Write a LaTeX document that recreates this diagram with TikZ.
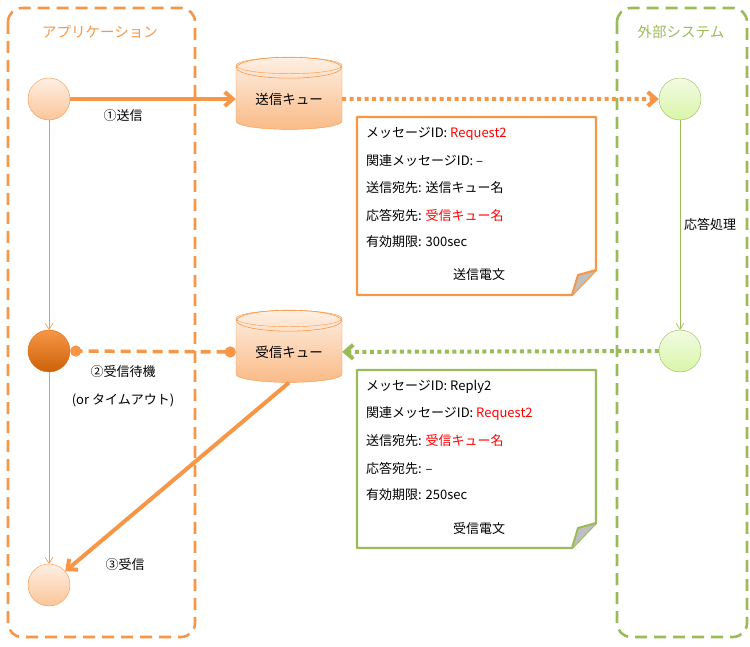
\documentclass[tikz,border=0pt]{standalone}
\usepackage{fontspec}
\setmainfont{Noto Sans CJK JP}
\usetikzlibrary{shapes.geometric,arrows.meta}
\definecolor{og}{HTML}{F79646}
\definecolor{ogd}{HTML}{E36C09}
\definecolor{gr}{HTML}{9BBB59}
\definecolor{rd}{HTML}{FF0000}
\definecolor{gl}{HTML}{F2FBE3}
\definecolor{gm}{HTML}{D9F5A8}
\tikzset{
 frame/.style={draw, line width=2.6pt, dash pattern=on 12pt off 7pt, rounded corners=14pt},
 st/.style={circle, minimum size=42pt, inner sep=0pt},
 ost/.style={st, draw=og, top color=og!15, bottom color=og!55},
 gst/.style={st, draw=gr, top color=gl, bottom color=gm},
 que/.style={cylinder, shape border rotate=90, aspect=0.22, minimum height=72pt, minimum width=106pt, draw=og, top color=og!15, bottom color=og!65, font=\fontsize{13.5}{15}\selectfont},
 lab/.style={font=\fontsize{13}{15}\selectfont},
 nt/.style={anchor=west, font=\fontsize{13}{15}\selectfont, inner sep=0pt},
 thin/.style={line width=0.6pt, -{Straight Barb[length=6pt,width=8pt]}},
 big/.style={line width=4pt, -{Straight Barb[length=8pt,width=14pt]}},
 topring/.style={draw=og, line width=0.6pt},
}
\begin{document}
\begin{tikzpicture}[x=1pt,y=-1pt]
\useasboundingbox (0,0) rectangle (750,647);
\draw[frame, og] (8,8) rectangle (195,637);
\draw[frame, gr] (617,8) rectangle (747,637);
\node[og, font=\fontsize{14.5}{16}\selectfont] (t1) at (100,32) {アプリケーション};
\node[gr, font=\fontsize{14.5}{16}\selectfont] (t2) at (681,32) {外部システム};
\node[ost] (a1) at (49,99) {};
\node[st, draw=ogd, top color=og, bottom color=ogd!90!black] (a2) at (49,351) {};
\node[ost] (a3) at (49,585) {};
\node[gst] (e1) at (680,99) {};
\node[gst] (e2) at (680,351) {};
\node[que] (sq) at (289,99) {送信キュー};
\node[que] (rq) at (289,352) {受信キュー};
\path[topring] (sq.top) ++(0,10.5) ellipse [x radius=52.5, y radius=10.5];
\path[topring] (rq.top) ++(0,10.5) ellipse [x radius=52.5, y radius=10.5];
% notes
\draw[og, line width=2.2pt, line join=round] (357,117) -- (596,117) -- (596,270) -- (572,295) -- (357,295) -- cycle;
\fill[gray!50] (572,295) -- (578,275) -- (596,270) -- cycle;
\draw[og, line width=2pt, line join=round] (572,295) -- (578,275) -- (596,270);
\draw[gr, line width=2.2pt, line join=round] (357,370) -- (596,370) -- (596,523) -- (572,548) -- (357,548) -- cycle;
\fill[gray!50] (572,548) -- (578,528) -- (596,523) -- cycle;
\draw[gr, line width=2pt, line join=round] (572,548) -- (578,528) -- (596,523);
\node[nt] (n11) at (366,134) {メッセージID: \textcolor{rd}{Request2}};
\node[nt] (n12) at (366,161) {関連メッセージID: –};
\node[nt] (n13) at (366,188) {送信宛先: 送信キュー名};
\node[nt] (n14) at (366,215) {応答宛先: \textcolor{rd}{受信キュー名}};
\node[nt] (n15) at (366,242) {有効期限: 300sec};
\node[lab] (n16) at (479,275) {送信電文};
\node[nt] (n21) at (366,387) {メッセージID: Reply2};
\node[nt] (n22) at (366,414) {関連メッセージID: \textcolor{rd}{Request2}};
\node[nt] (n23) at (366,441) {送信宛先: \textcolor{rd}{受信キュー名}};
\node[nt] (n24) at (366,468) {応答宛先: –};
\node[nt] (n25) at (366,495) {有効期限: 250sec};
\node[lab] (n26) at (479,529) {受信電文};
% connectors
\draw[og, big] (a1) -- (sq);
\node[lab] (l1) at (123,116) {①送信};
\draw[og, line width=4pt, dash pattern=on 4pt off 3.5pt, -{Straight Barb[length=8pt,width=14pt]}] (sq) -- (e1);
\draw[gr, thin] (e1) -- (e2);
\node[lab] (l4) at (710,224) {応答処理};
\draw[gr, line width=4pt, dash pattern=on 4pt off 3.5pt, -{Straight Barb[length=8pt,width=14pt]}] (e2) -- (rq);
\draw[og, line width=3.5pt, dash pattern=on 10pt off 6pt, {Circle[length=11pt]}-{Circle[length=11pt]}] (rq.west) -- (a2.east);
\draw[og, thin] (a1) -- (a2);
\draw[og, thin] (a2) -- (a3);
\node[lab] (l2) at (123,372) {②受信待機};
\node[lab] (l3) at (123,400) {(or タイムアウト)};
\draw[og, big] (rq.bottom) -- (a3);
\node[lab] (l5) at (125,565) {③受信};
\end{tikzpicture}
\end{document}
